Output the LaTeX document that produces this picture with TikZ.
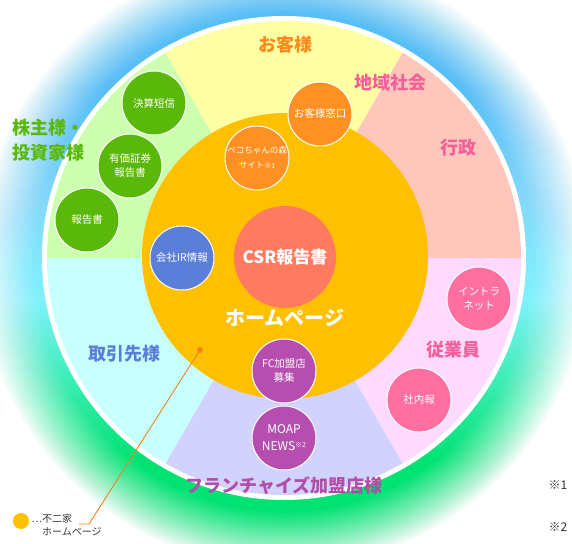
\documentclass[tikz,border=0pt]{standalone}
\usepackage{fontspec}
\setmainfont{Noto Sans CJK JP}
\definecolor{gbot}{HTML}{00E272}
\definecolor{gmid2}{HTML}{38ECB0}
\definecolor{gmid}{HTML}{80F2FC}
\definecolor{gup}{HTML}{84D8FA}
\definecolor{gtop}{HTML}{58BEF6}
\definecolor{secgreen}{HTML}{CCFFB0}
\definecolor{secyellow}{HTML}{FFFFA4}
\definecolor{secsalmon}{HTML}{FFC6BC}
\definecolor{secpink}{HTML}{FFDAFF}
\definecolor{seclav}{HTML}{D2D2FF}
\definecolor{seccyan}{HTML}{C8FFFF}
\definecolor{hporange}{HTML}{FFC000}
\definecolor{csrred}{HTML}{FF7A5E}
\definecolor{cgreen}{HTML}{5AB80A}
\definecolor{cblue}{HTML}{5B7FD9}
\definecolor{corange}{HTML}{FF9124}
\definecolor{cpink}{HTML}{FF6FA0}
\definecolor{cpurple}{HTML}{B54EAE}
\definecolor{lorange}{HTML}{FF8A1E}
\definecolor{lpink}{HTML}{F2609A}
\definecolor{lgreen}{HTML}{5AB80A}
\definecolor{lblue}{HTML}{5A7FD8}
\definecolor{lpurple}{HTML}{B04EA8}
\definecolor{legendtxt}{HTML}{333333}
\definecolor{pointer}{HTML}{F58220}
\pgfdeclareverticalshading{glowcol}{100bp}{color(0bp)=(gbot); color(34bp)=(gbot); color(40bp)=(gmid2); color(47bp)=(gmid); color(55bp)=(gup); color(64bp)=(gtop); color(100bp)=(gtop)}
\tikzset{
  seclabel/.style={font=\bfseries\fontsize{18}{21}\selectfont, inner sep=0pt},
  smallc/.style={circle, minimum size=64pt, inner sep=0pt, draw=white, line width=1pt, text=white, align=center, font=\fontsize{10.5}{14}\selectfont},
}
\begin{document}
\begin{tikzpicture}[x=1pt,y=-1pt]
\useasboundingbox (0,0) rectangle (572,543);
\fill[white] (0,0) rectangle (572,543);
\begin{scope}
\clip (0,0) rectangle (572,543);
% glow
\coordinate (G) at (284,262);
\path[shading=glowcol] (G) circle[radius=310];
\foreach \i in {1,...,22} {
  \pgfmathsetmacro\ra{248+2.6*\i}
  \pgfmathsetmacro\op{1/(23-\i)}
  \fill[white, fill opacity=\op, even odd rule] (G) circle[radius=420] (G) circle[radius=\ra];
}
\end{scope}
% outer white circle and sectors
\coordinate (O) at (284,258);
\fill[white] (O) circle[radius=242];
\fill[secgreen] (O) -- ++(180:237) arc[start angle=180,end angle=240,radius=237] -- cycle;
\fill[secyellow] (O) -- ++(240:237) arc[start angle=240,end angle=300,radius=237] -- cycle;
\fill[secsalmon] (O) -- ++(300:237) arc[start angle=300,end angle=360,radius=237] -- cycle;
\fill[secpink] (O) -- ++(0:237) arc[start angle=0,end angle=60,radius=237] -- cycle;
\fill[seclav] (O) -- ++(60:237) arc[start angle=60,end angle=120,radius=237] -- cycle;
\fill[seccyan] (O) -- ++(120:237) arc[start angle=120,end angle=180,radius=237] -- cycle;
% home page circle
\node[circle, fill=hporange, minimum size=286pt, inner sep=0pt] (hp) at (285,256) {};
\node[circle, fill=csrred, minimum size=102pt, inner sep=0pt, text=white, font=\bfseries\fontsize{17}{20}\selectfont] (csr) at (285,257) {CSR報告書};
\node[text=white, font=\bfseries\fontsize{20}{24}\selectfont, inner sep=0pt] (hplabel) at (285,318) {ホームページ};
% sector labels
\node[seclabel, text=lorange] (kyaku) at (285,45) {お客様};
\node[seclabel, text=lpink] (chiiki) at (390,83) {地域社会};
\node[seclabel, text=lpink] (gyosei) at (458,148) {行政};
\node[seclabel, text=lgreen, anchor=west, align=left, font=\bfseries\fontsize{18}{25}\selectfont] (kabu) at (12,140) {株主様・\\投資家様};
\node[seclabel, text=lblue] (torihiki) at (124,354) {取引先様};
\node[seclabel, text=lpink] (jugyo) at (453,350) {従業員};
\node[seclabel, text=lpurple] (fc) at (284,486) {フランチャイズ加盟店様};
% small circles
\node[smallc, fill=cgreen] (kessan) at (154,103) {決算短信};
\node[smallc, fill=cgreen] (yuka) at (130,166) {有価証券\\報告書};
\node[smallc, fill=cgreen] (hokoku) at (87,220) {報告書};
\node[smallc, fill=cblue] (ir) at (182,258) {会社IR情報};
\node[smallc, fill=corange, font=\fontsize{8.5}{15}\selectfont] (peko) at (257,158) {ペコちゃんの森\\サイト{\fontsize{7}{8}\selectfont ※1}};
\node[smallc, fill=corange] (madoguchi) at (320,114) {お客様窓口};
\node[smallc, fill=cpink] (intra) at (479,299) {イントラ\\ネット};
\node[smallc, fill=cpink] (shanai) at (419,400) {社内報};
\node[smallc, fill=cpurple] (fcboshu) at (284,371) {FC加盟店\\募集};
\node[smallc, fill=cpurple, font=\fontsize{12}{17}\selectfont] (moap) at (284,438) {MOAP\\NEWS\raisebox{3pt}{\fontsize{7}{8}\selectfont ※2}};
% legend pointer
\node[circle, fill=pointer, minimum size=6pt, inner sep=0pt] (ptdot) at (200,350) {};
\coordinate (bend) at (89,524);
\coordinate (lend) at (79,524);
\draw[pointer, line width=0.9pt] (ptdot.center) -- (bend) -- (lend);
\node[circle, fill=hporange, minimum size=16pt, inner sep=0pt] (legdot) at (21,521) {};
\node[anchor=west, align=left, text=legendtxt, font=\fontsize{10}{13}\selectfont, inner sep=0pt] (legtext) at (42,525) {\makebox[0pt][r]{…}不二家\\ホームページ};
\node[text=legendtxt, font=\fontsize{12}{14}\selectfont, inner sep=0pt] (n1) at (558,485) {※1};
\node[text=legendtxt, font=\fontsize{12}{14}\selectfont, inner sep=0pt] (n2) at (558,527) {※2};
\end{tikzpicture}
\end{document}
